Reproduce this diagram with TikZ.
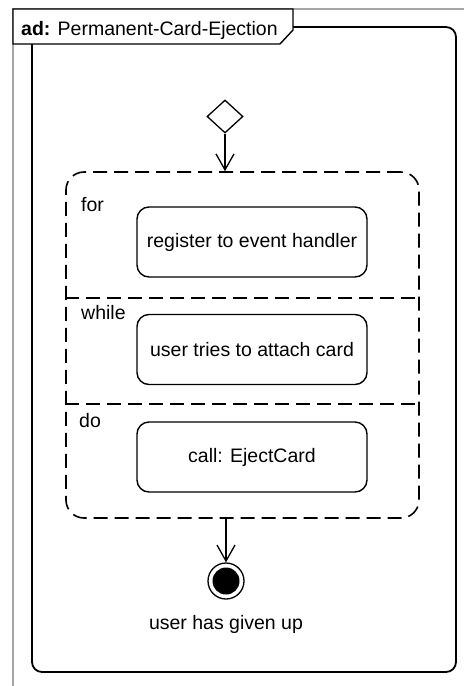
\documentclass[tikz,border=0pt]{standalone}
\usepackage{fontspec}
\setmainfont{Liberation Sans}
\usetikzlibrary{shapes.geometric,arrows.meta}
\begin{document}
\begin{tikzpicture}[x=1pt,y=-1pt,
  every node/.style={font=\fontsize{19.5}{23}\selectfont},
  actbox/.style={draw,line width=1.4pt,rounded corners=12pt,minimum width=230pt,minimum height=70pt,inner sep=0pt},
  loopbox/.style={draw,line width=1.6pt,dash pattern=on 14pt off 7pt,rounded corners=18pt,minimum width=353pt,minimum height=346pt,inner sep=0pt},
  divider/.style={line width=1.6pt,dash pattern=on 14pt off 7pt},
  flow/.style={line width=1.3pt,-{Straight Barb[length=16pt,width=18pt,line width=1.3pt]}},
  kw/.style={anchor=base west,inner sep=0pt},
  frameline/.style={line width=1.8pt,rounded corners=10pt}
]
\useasboundingbox (0,0) rectangle (464,686);
% outer gray frame
\draw[gray!70,line width=1.4pt] (464,9) -- (13,9) -- (13,686);
% inner frame
\draw[frameline] (32,27) rectangle (456,672);
% title tab
\draw[line width=1.4pt,fill=white] (13,9) -- (293,9) -- (293,30) -- (280,44) -- (13,44) -- cycle;
\node[kw] (title) at (21,35) {\textbf{ad:} Permanent-Card-Ejection};
% initial decision diamond
\node[draw,shape=diamond,line width=1.3pt,minimum width=36pt,minimum height=33pt,inner sep=0pt] (dec) at (225,116.5) {};
% loop region
\node[loopbox] (loop) at (242.5,345) {};
\draw[divider] (loop.west |- 0,298) -- (loop.east |- 0,298);
\draw[divider] (loop.west |- 0,404) -- (loop.east |- 0,404);
\node[kw] (kfor) at (81,211) {for};
\node[kw] (kwhile) at (81,319) {while};
\node[kw] (kdo) at (79,427) {do};
% actions
\node[actbox] (a1) at (252,242) {register to event handler};
\node[actbox] (a2) at (252,349.5) {user tries to attach card};
\node[actbox] (a3) at (252,457) {call: EjectCard};
% final node
\node[circle,draw,line width=1.3pt,minimum size=36pt,inner sep=0pt] (fin) at (226,581) {};
\node[circle,fill=black,minimum size=27pt,inner sep=0pt] (fininner) at (fin.center) {};
\node[anchor=base,inner sep=0pt] (finlbl) at (226,629) {user has given up};
% flows
\draw[flow] (dec.south) -- (dec.south |- loop.north);
\draw[flow] (fin.north |- loop.south) -- (fin.north);
\end{tikzpicture}
\end{document}
